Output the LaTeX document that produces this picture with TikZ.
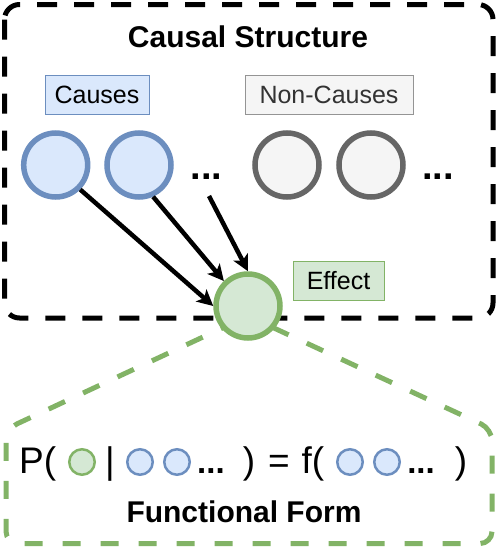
\documentclass[tikz,border=0pt]{standalone}
\usepackage{fontspec}
\setmainfont{Liberation Sans}
\usetikzlibrary{arrows.meta}
\definecolor{bluefill}{HTML}{DAE8FC}
\definecolor{bluedraw}{HTML}{6C8EBF}
\definecolor{greenfill}{HTML}{D5E8D4}
\definecolor{greendraw}{HTML}{82B366}
\definecolor{grayfill}{HTML}{F5F5F5}
\definecolor{graydraw}{HTML}{666666}
\tikzset{
  var/.style={circle, line width=5.5pt, minimum size=64pt, inner sep=0pt},
  causevar/.style={var, draw=bluedraw, fill=bluefill},
  noncausevar/.style={var, draw=graydraw, fill=grayfill},
  effectvar/.style={var, draw=greendraw, fill=greenfill},
  smallvar/.style={circle, line width=2.5pt, minimum size=25.5pt, inner sep=0pt},
  smallcause/.style={smallvar, draw=bluedraw, fill=bluefill},
  smalleffect/.style={smallvar, draw=greendraw, fill=greenfill},
  tagbox/.style={rectangle, line width=1pt, minimum height=39pt, inner sep=0pt,
    font=\fontsize{25}{30}\selectfont},
  title/.style={font=\fontsize{30}{36}\selectfont\bfseries},
  dots/.style={font=\fontsize{38}{42}\selectfont\bfseries, anchor=base, inner sep=0pt},
  fdots/.style={font=\fontsize{33}{38}\selectfont\bfseries, anchor=base, inner sep=0pt},
  formula/.style={font=\fontsize{37}{44}\selectfont, anchor=base, inner sep=0pt},
  causalarrow/.style={line width=4.5pt, -{Stealth[length=16pt, width=16pt, inset=4pt]}},
  structbox/.style={line width=5pt, dash pattern=on 20pt off 17pt, rounded corners=15pt},
  formbox/.style={line width=5pt, draw=greendraw, dash pattern=on 18pt off 20pt, rounded corners=12pt},
}
\begin{document}
\begin{tikzpicture}[x=1pt, y=-1pt]
\useasboundingbox (0,0) rectangle (499,552);

% causal structure frame
\draw[structbox] (4.5,4.5) rectangle (493,318);
% functional form frame
\draw[formbox] (248,316) -- (6,429) -- (6,543.5) -- (492,543.5) -- (492,429) -- cycle;

\node[title] (t1) at (248,37) {Causal Structure};

\node[tagbox, draw=bluedraw, fill=bluefill, minimum width=104pt] (lc) at (97,94.5) {Causes};
\node[tagbox, draw=graydraw!70, fill=grayfill, minimum width=168pt, text=black!80] (ln) at (329,94.5) {Non-Causes};

\node[causevar] (c1) at (55.7,165) {};
\node[causevar] (c2) at (139,165) {};
\node[dots] (d1) at (206.5,179) {...};
\node[noncausevar] (n1) at (287,165) {};
\node[noncausevar] (n2) at (371,165) {};
\node[dots] (d2) at (438,179) {...};

\node[effectvar] (e) at (248,306) {};
\node[tagbox, draw=greendraw, fill=greenfill, minimum width=91pt] (le) at (338.5,280.5) {Effect};

\coordinate (a3) at (209,196);
\draw[causalarrow] (c1.-45) -- (e.180);
\draw[causalarrow] (c2.-66) -- (e.134);
\draw[causalarrow] (a3) -- (e.north);

% formula
\node[formula, anchor=base west] (fp) at (19,473) {P(};
\node[smalleffect] (fe) at (82,462) {};
\node[formula] (fbar) at (110,473) {|};
\node[smallcause] (fc1) at (140,462) {};
\node[smallcause] (fc2) at (177,462) {};
\node[fdots] (fd1) at (211,473) {...};
\node[formula] (fr1) at (249,473) {)};
\node[formula] (feq) at (279,473) {=};
\node[formula] (ff) at (313,473) {f(};
\node[smallcause] (fc3) at (350,462) {};
\node[smallcause] (fc4) at (387,462) {};
\node[fdots] (fd2) at (421,473) {...};
\node[formula] (fr2) at (461,473) {)};

\node[title] (t2) at (244,512) {Functional Form};
\end{tikzpicture}
\end{document}
